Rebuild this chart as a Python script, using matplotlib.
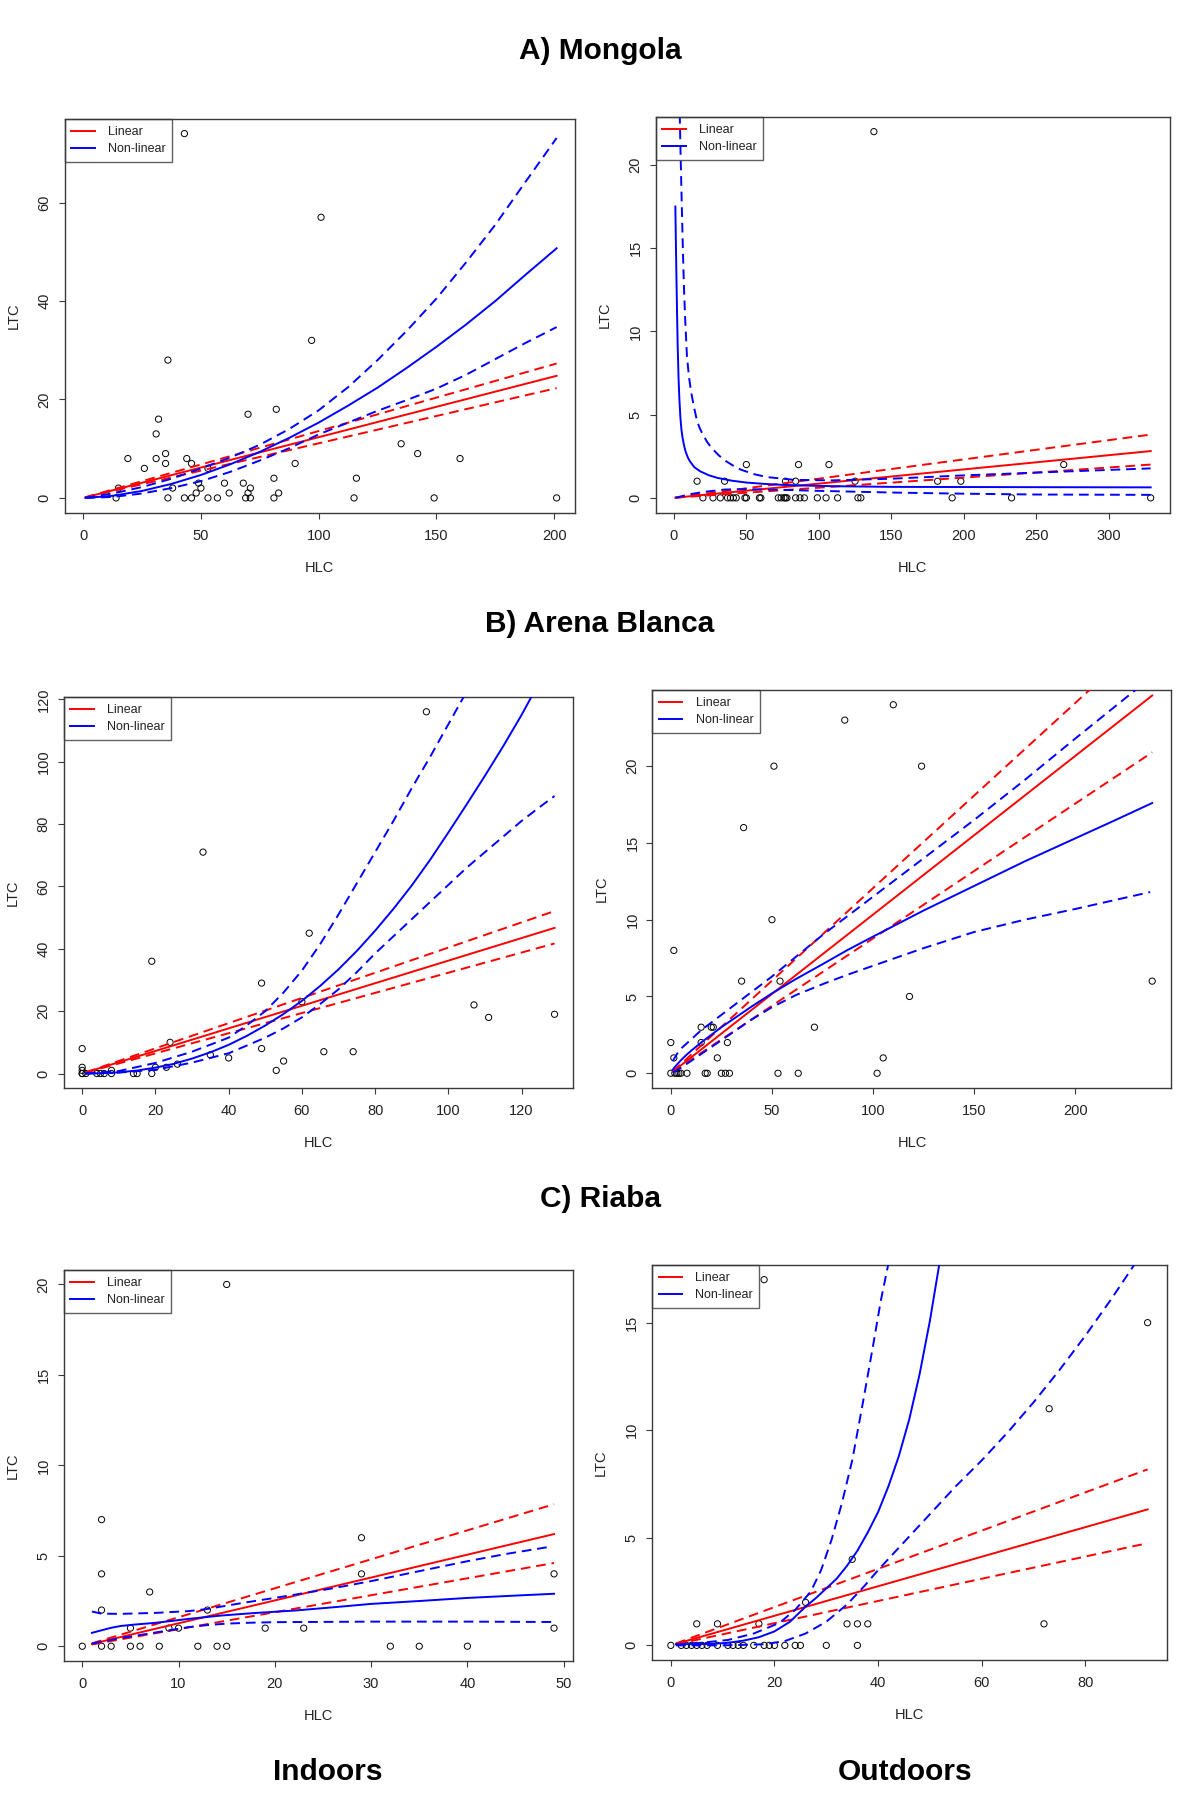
import matplotlib
matplotlib.use("Agg")
import matplotlib.pyplot as plt
from matplotlib.lines import Line2D

plt.rcParams['font.family'] = ['Liberation Sans', 'DejaVu Sans']

W, H = 1200, 1814

# --- A) Mongola, indoors ---
mon_in_hlc = [43, 101, 97, 36, 82, 70, 32, 31, 135, 142, 35, 19, 31, 44, 160, 35, 46, 90, 26, 53,
              81, 116, 60, 68, 49, 15, 38, 50, 71, 48, 62, 70, 83, 14, 36, 43, 46, 53, 57, 69,
              71, 81, 115, 149, 201]
mon_in_ltc = [74, 57, 32, 28, 18, 17, 16, 13, 11, 9, 9, 8, 8, 8, 8, 7, 7, 7, 6, 6,
              4, 4, 3, 3, 3, 2, 2, 2, 2, 1, 1, 1, 1, 0, 0, 0, 0, 0, 0, 0,
              0, 0, 0, 0, 0]
mon_in_lin_x = [1, 201]
mon_in_lin = [0.12, 24.8]
mon_in_lin_hi = [0.14, 27.3]
mon_in_lin_lo = [0.11, 22.3]
mon_in_nl_x = [1, 12.5, 25, 37.5, 50, 62.5, 75, 87.5, 100, 112.5, 125, 137.5, 150, 162.5, 175, 187.5, 201]
mon_in_nl = [0.01, 0.43, 1.42, 2.85, 4.66, 6.84, 9.35, 12.2, 15.3, 18.75, 22.4, 26.45, 30.7, 35.2, 40.0,
             45.2, 50.7]
mon_in_nl_hi = [0.05, 0.9, 2.2, 3.9, 6.0, 8.2, 10.8, 14.0, 17.8, 22.5, 28.0, 34.0, 40.5, 47.8, 55.5,
                64.0, 73.1]
mon_in_nl_lo = [0.0, 0.2, 0.9, 2.0, 3.4, 5.3, 7.6, 10.1, 12.9, 15.3, 17.7, 19.9, 22.2, 25.0, 28.2,
                31.4, 34.7]

# --- A) Mongola, outdoors ---
mon_out_hlc = [138, 50, 86, 107, 269, 16, 35, 77, 84, 125, 182, 198,
               20, 27, 32, 37, 39, 41, 43, 49, 50, 59, 60, 72, 74, 76, 77, 78, 84, 87, 90,
               99, 105, 113, 127, 129, 192, 233, 329]
mon_out_ltc = [22, 2, 2, 2, 2, 1, 1, 1, 1, 1, 1, 1,
               0, 0, 0, 0, 0, 0, 0, 0, 0, 0, 0, 0, 0, 0, 0, 0, 0, 0, 0,
               0, 0, 0, 0, 0, 0, 0, 0]
mon_out_lin_x = [1, 329]
mon_out_lin = [0.01, 2.81]
mon_out_lin_hi = [0.01, 3.8]
mon_out_lin_lo = [0.01, 2.0]
mon_out_nl_x = [1, 1.4, 1.8, 2.2, 2.6, 3.2, 3.8, 4.5, 5.2, 6, 7, 8, 9.5, 11, 14, 18, 24, 30, 40, 50, 62,
                75, 90, 110, 130, 150, 200, 260, 329]
mon_out_nl = [17.5, 15.2, 13.0, 11.0, 9.2, 7.2, 5.9, 4.8, 4.1, 3.6, 3.15, 2.8, 2.45, 2.2, 1.85, 1.6, 1.36,
              1.2, 1.03, 0.92, 0.84, 0.78, 0.74, 0.7, 0.68, 0.66, 0.65, 0.64, 0.63]
mon_out_nl_hi_x = [3.8, 4.4, 5, 5.6, 6.3, 7, 7.8, 9, 10.5, 12, 14, 16, 18, 20, 23, 26, 31, 36, 41, 46,
                   55, 64, 83, 110, 150, 200, 260, 329]
mon_out_nl_hi = [24, 21.5, 19.2, 17.0, 14.6, 12.5, 10.7, 8.5, 7.2, 6.3, 5.4, 4.6, 4.15, 3.8, 3.35, 3.0,
                 2.55, 2.2, 1.93, 1.7, 1.43, 1.25, 1.08, 1.05, 1.15, 1.35, 1.55, 1.77]
mon_out_nl_lo_x = [1, 10, 20, 35, 50, 75, 100, 150, 200, 250, 329]
mon_out_nl_lo = [0.0, 0.2, 0.35, 0.5, 0.52, 0.48, 0.42, 0.32, 0.25, 0.2, 0.18]

# --- B) Arena Blanca, indoors ---
are_in_hlc = [94, 33, 62, 19, 49, 60, 107, 111, 129, 0, 24, 49, 66, 74, 35, 40, 55, 53, 26, 23,
              20, 0, 0, 8, 0, 0, 1, 4, 5, 6, 8, 14, 15, 19]
are_in_ltc = [116, 71, 45, 36, 29, 23, 22, 18, 19, 8, 10, 8, 7, 7, 6, 5, 4, 1, 3, 2,
              2, 2, 1, 1, 0, 0, 0, 0, 0, 0, 0, 0, 0, 0]
are_in_lin_x = [1, 129]
are_in_lin = [0.36, 46.7]
are_in_lin_hi = [0.4, 52.1]
are_in_lin_lo = [0.32, 41.7]
are_in_nl_x = [1, 5, 10, 15, 20, 25, 30, 35, 40, 45, 50, 55, 60, 65, 70, 75, 80, 85, 90, 95, 100, 105,
               110, 115, 120, 123]
are_in_nl = [0.0, 0.08, 0.38, 0.96, 1.9, 3.1, 4.8, 6.8, 9.2, 12.1, 15.4, 19.1, 23.3, 28.1, 33.4, 39.3,
             45.8, 52.8, 60.3, 68.5, 77.3, 86.3, 95.5, 105.0, 115.0, 121.5]
are_in_nl_hi_x = [1, 10, 20, 30, 40, 45, 50, 55, 60, 65, 70, 75, 80, 85, 90, 95, 100, 105]
are_in_nl_hi = [0.05, 0.8, 3.4, 7.0, 11.5, 15.5, 20.0, 26.0, 33.0, 41.5, 51.0, 61.0, 71.0, 81.0, 91.5,
                101.5, 112.0, 122.5]
are_in_nl_lo_x = [1, 10, 20, 30, 40, 50, 55, 60, 65, 70, 75, 80, 85, 90, 95, 100, 105, 110, 115, 120,
                  125, 129]
are_in_nl_lo = [0.0, 0.3, 1.2, 3.5, 6.5, 11.5, 14.5, 18.0, 22.3, 27.0, 32.5, 38.5, 44.0, 49.5, 55.0,
                60.5, 66.0, 71.0, 76.0, 81.0, 85.5, 89.0]

# --- B) Arena Blanca, outdoors ---
are_out_hlc = [110, 86, 51, 124, 36, 50, 1.5, 35, 54, 238, 118, 71, 15, 20, 21, 0, 15, 28, 1.5, 23,
               105, 0, 2, 3, 4, 5, 8, 17, 18, 25, 27, 29, 53, 63, 102]
are_out_ltc = [24, 23, 20, 20, 16, 10, 8, 6, 6, 6, 5, 3, 3, 3, 3, 2, 2, 2, 1, 1,
               1, 0, 0, 0, 0, 0, 0, 0, 0, 0, 0, 0, 0, 0, 0]
are_out_lin_x = [1, 238]
are_out_lin = [0.1, 24.6]
are_out_lin_hi = [0.12, 28.7]
are_out_lin_lo = [0.09, 20.9]
are_out_nl_x = [1, 2, 3.5, 5, 7.5, 10, 15, 20, 25, 30, 40, 50, 62, 75, 87, 100, 125, 150, 175, 200, 220,
                238]
are_out_nl = [0.24, 0.41, 0.63, 0.85, 1.17, 1.46, 2.0, 2.5, 3.0, 3.45, 4.35, 5.2, 6.15, 7.1, 8.0, 8.9,
              10.6, 12.2, 13.8, 15.3, 16.5, 17.6]
are_out_nl_hi_x = [1, 3, 5, 7.5, 10, 15, 20, 25, 32, 40, 50, 62, 75, 87, 100, 125, 150, 175, 200, 232]
are_out_nl_hi = [0.8, 1.25, 1.6, 1.9, 2.2, 2.8, 3.3, 3.8, 4.5, 5.3, 6.3, 7.6, 9.0, 10.2, 11.5, 14.0, 16.5,
                 19.1, 21.8, 25.2]
are_out_nl_lo_x = [1, 3, 5, 7.5, 10, 15, 20, 30, 40, 50, 62, 75, 87, 100, 125, 150, 175, 200, 237]
are_out_nl_lo = [0.05, 0.2, 0.35, 0.58, 0.8, 1.25, 1.7, 2.6, 3.5, 4.3, 5.1, 5.8, 6.4, 7.0, 8.15, 9.2,
                 10.0, 10.7, 11.8]

# --- C) Riaba, indoors ---
ria_in_hlc = [15, 2, 29, 2, 29, 49, 7, 2, 13, 5, 9, 10, 19, 23, 49, 0, 2, 3, 5, 6, 8, 12, 14, 15, 32, 35, 40]
ria_in_ltc = [20, 7, 6, 4, 4, 4, 3, 2, 2, 1, 1, 1, 1, 1, 1, 0, 0, 0, 0, 0, 0, 0, 0, 0, 0, 0, 0]
ria_in_lin_x = [1, 49]
ria_in_lin = [0.13, 6.2]
ria_in_lin_hi = [0.16, 7.85]
ria_in_lin_lo = [0.1, 4.6]
ria_in_nl_x = [1, 2, 3, 4, 5.5, 7.5, 9, 11, 14.5, 18, 22, 26, 30, 35, 40, 45, 49]
ria_in_nl = [0.74, 0.88, 1.02, 1.12, 1.2, 1.29, 1.38, 1.51, 1.7, 1.84, 1.97, 2.15, 2.34, 2.5, 2.67, 2.8,
             2.9]
ria_in_nl_hi_x = [1, 2, 4, 7.5, 11, 13, 16.5, 21.5, 26, 30, 35, 40, 44, 48.6]
ria_in_nl_hi = [1.92, 1.8, 1.79, 1.84, 1.94, 2.06, 2.38, 2.8, 3.2, 3.6, 4.15, 4.7, 5.1, 5.5]
ria_in_nl_lo_x = [1, 4, 7.5, 11, 13, 15, 17.5, 20, 30, 40, 49]
ria_in_nl_lo = [0.15, 0.45, 0.75, 1.05, 1.17, 1.25, 1.3, 1.33, 1.36, 1.36, 1.34]

# --- C) Riaba, outdoors ---
ria_out_hlc = [18, 92, 73, 35, 26, 5, 9, 17, 34, 36, 38, 72,
               0, 2, 3, 4, 5, 6, 7, 9, 11, 12, 13, 14, 16, 18, 19, 20, 22, 24, 25, 30, 36]
ria_out_ltc = [17, 15, 11, 4, 2, 1, 1, 1, 1, 1, 1, 1,
               0, 0, 0, 0, 0, 0, 0, 0, 0, 0, 0, 0, 0, 0, 0, 0, 0, 0, 0, 0, 0]
ria_out_lin_x = [1, 92]
ria_out_lin = [0.07, 6.32]
ria_out_lin_hi = [0.09, 8.18]
ria_out_lin_lo = [0.05, 4.75]
ria_out_nl_x = [1, 8, 11, 14, 17, 20, 23, 26, 28, 30, 32, 34, 36, 38, 40, 42, 44, 46, 48, 50, 52]
ria_out_nl = [0.05, 0.07, 0.12, 0.22, 0.38, 0.65, 1.1, 1.8, 2.2, 2.65, 3.1, 3.7, 4.4, 5.25, 6.2, 7.4,
              8.8, 10.5, 12.6, 15.1, 18.0]
ria_out_nl_hi_x = [1, 5, 11, 16, 21, 24, 27, 29, 31, 33, 35, 37, 39, 40.5, 42.2]
ria_out_nl_hi = [0.02, 0.1, 0.25, 0.55, 1.05, 1.65, 2.5, 3.5, 4.9, 6.6, 8.6, 11.2, 13.9, 16.0, 18.0]
ria_out_nl_lo_x = [1, 10, 18, 22, 26, 30, 34, 37.5, 40, 45, 50, 55, 60, 65, 70, 75, 80, 85, 90]
ria_out_nl_lo = [0.0, 0.0, 0.05, 0.2, 0.55, 1.1, 1.9, 2.8, 3.5, 4.8, 6.1, 7.4, 8.6, 9.9, 11.3,
                 12.8, 14.4, 16.1, 17.9]

TXT = '#222222'
BOX = '#3a3a3a'
DASH = (0, (5, 3))


def caixa(x0, x1, y0, y1):
    # caixa em pixels -> fracao da figura
    return [x0 / W, 1 - y1 / H, (x1 - x0) / W, (y1 - y0) / H]


def painel(fig, px, hlc, ltc, lx, lin, lhi, llo, nx, nl, hx, nhi, lox, nlo,
           xlim, ylim, xt, yt):
    ax = fig.add_axes(caixa(*px))
    ax.scatter(hlc, ltc, s=20, facecolors='none', edgecolors='black',
               linewidths=0.7, zorder=2, clip_on=False)
    ax.plot(lx, lin, color='red', lw=1.4, zorder=3)
    ax.plot(lx, lhi, color='red', lw=1.4, ls=DASH, zorder=3)
    ax.plot(lx, llo, color='red', lw=1.4, ls=DASH, zorder=3)
    ax.plot(nx, nl, color='blue', lw=1.4, zorder=4)
    ax.plot(hx, nhi, color='blue', lw=1.4, ls=DASH, zorder=4)
    ax.plot(lox, nlo, color='blue', lw=1.4, ls=DASH, zorder=4)

    ax.set_xlim(*xlim)
    ax.set_ylim(*ylim)
    ax.set_xticks(xt)
    ax.set_yticks(yt)
    ax.tick_params(axis='both', direction='out', length=4.3, width=0.8,
                   color=BOX, labelcolor=TXT, labelsize=10.5)
    ax.tick_params(axis='x', pad=7.5)
    ax.tick_params(axis='y', pad=5)
    for lab in ax.get_yticklabels():
        lab.set_rotation(90)
        lab.set_va('center')
    for sp in ax.spines.values():
        sp.set_color(BOX)
        sp.set_linewidth(1.0)

    hand = [Line2D([], [], color='red', lw=1.4), Line2D([], [], color='blue', lw=1.4)]
    leg = ax.legend(hand, ['Linear', 'Non-linear'], loc='upper left',
                    bbox_to_anchor=(0, 1), borderaxespad=0, fancybox=False,
                    edgecolor=BOX, facecolor='none', fontsize=9,
                    handlelength=1.85, handletextpad=1.05, borderpad=0.55,
                    labelspacing=0.4)
    leg.get_frame().set_linewidth(1.0)
    for t in leg.get_texts():
        t.set_color(TXT)

    x0, x1, y0, y1 = px
    fig.text((x0 + x1) / 2 / W, 1 - (y1 + 55) / H, 'HLC', ha='center', va='center',
             fontsize=10.5, color=TXT)
    fig.text((x0 - 51) / W, 1 - (y0 + y1) / 2 / H, 'LTC', ha='center', va='center',
             rotation=90, fontsize=10.5, color=TXT)
    return ax


fig = plt.figure(figsize=(12, 18.14), dpi=100)

painel(fig, (64.5, 575, 119, 512.5), mon_in_hlc, mon_in_ltc,
       mon_in_lin_x, mon_in_lin, mon_in_lin_hi, mon_in_lin_lo,
       mon_in_nl_x, mon_in_nl, mon_in_nl_x, mon_in_nl_hi, mon_in_nl_x, mon_in_nl_lo,
       (-7.9, 208.8), (-2.96, 76.96), [0, 50, 100, 150, 200], [0, 20, 40, 60])

painel(fig, (655.5, 1169.5, 117, 512.5), mon_out_hlc, mon_out_ltc,
       mon_out_lin_x, mon_out_lin, mon_out_lin_hi, mon_out_lin_lo,
       mon_out_nl_x, mon_out_nl, mon_out_nl_hi_x, mon_out_nl_hi, mon_out_nl_lo_x, mon_out_nl_lo,
       (-12.7, 342.0), (-0.88, 22.88), [0, 50, 100, 150, 200, 250, 300], [0, 5, 10, 15, 20])

painel(fig, (63.5, 572.5, 697.3, 1088), are_in_hlc, are_in_ltc,
       are_in_lin_x, are_in_lin, are_in_lin_hi, are_in_lin_lo,
       are_in_nl_x, are_in_nl, are_in_nl_hi_x, are_in_nl_hi, are_in_nl_lo_x, are_in_nl_lo,
       (-5.1, 133.9), (-4.64, 120.64), [0, 20, 40, 60, 80, 100, 120], [0, 20, 40, 60, 80, 100, 120])

painel(fig, (652.4, 1171.4, 690, 1088), are_out_hlc, are_out_ltc,
       are_out_lin_x, are_out_lin, are_out_lin_hi, are_out_lin_lo,
       are_out_nl_x, are_out_nl, are_out_nl_hi_x, are_out_nl_hi, are_out_nl_lo_x, are_out_nl_lo,
       (-9.1, 247.5), (-0.96, 24.96), [0, 50, 100, 150, 200], [0, 5, 10, 15, 20])

painel(fig, (63.5, 572.9, 1270, 1660.7), ria_in_hlc, ria_in_ltc,
       ria_in_lin_x, ria_in_lin, ria_in_lin_hi, ria_in_lin_lo,
       ria_in_nl_x, ria_in_nl, ria_in_nl_hi_x, ria_in_nl_hi, ria_in_nl_lo_x, ria_in_nl_lo,
       (-1.95, 50.96), (-0.8, 20.8), [0, 10, 20, 30, 40, 50], [0, 5, 10, 15, 20])

painel(fig, (651.7, 1166.8, 1265, 1660), ria_out_hlc, ria_out_ltc,
       ria_out_lin_x, ria_out_lin, ria_out_lin_hi, ria_out_lin_lo,
       ria_out_nl_x, ria_out_nl, ria_out_nl_hi_x, ria_out_nl_hi, ria_out_nl_lo_x, ria_out_nl_lo,
       (-3.69, 95.7), (-0.68, 17.68), [0, 20, 40, 60, 80], [0, 5, 10, 15])

# titulos das linhas e das colunas
for txt, ypx in [('A) Mongola', 51), ('B) Arena Blanca', 624), ('C) Riaba', 1199)]:
    fig.text(0.5, 1 - ypx / H, txt, ha='center', va='center', fontsize=21.5,
             fontweight='bold', color='black')
fig.text(327.5 / W, 1 - 1772 / H, 'Indoors', ha='center', va='center', fontsize=21.5,
         fontweight='bold', color='black')
fig.text(905 / W, 1 - 1772 / H, 'Outdoors', ha='center', va='center', fontsize=21.5,
         fontweight='bold', color='black')

fig.savefig('out.png', dpi=100, facecolor='white')
